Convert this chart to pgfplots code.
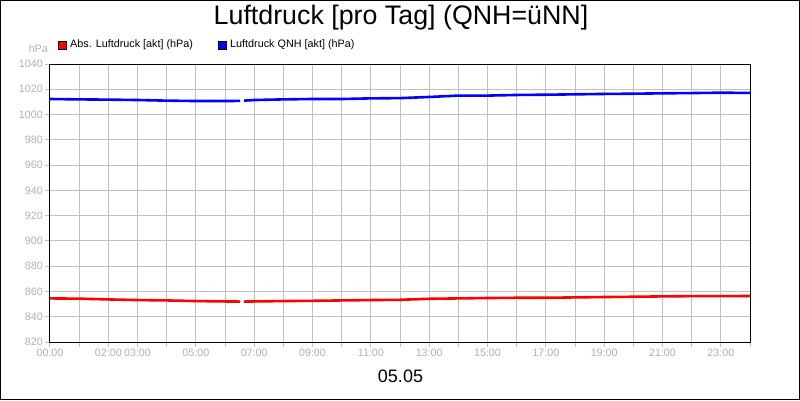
\documentclass[border=0pt]{standalone}
\usepackage{pgfplots}
\pgfplotsset{compat=1.18}
\usepackage{fontspec}
\setmainfont{Liberation Sans}
\definecolor{gridgray}{RGB}{192,192,192}
\definecolor{labelgray}{RGB}{176,176,176}

\begin{document}
\begin{tikzpicture}
\begin{axis}[
    at={(0,0)}, anchor=south west,
    scale only axis, width=700pt, height=278pt,
    xmin=0, xmax=24, ymin=820, ymax=1040,
    xtick={0,...,24},
    xticklabels={00:00,,02:00,03:00,,05:00,,07:00,,09:00,,11:00,,13:00,,15:00,,17:00,,19:00,,21:00,,23:00,},
    ytick={820,840,...,1040},
    grid=major,
    major grid style={gridgray, line width=1pt},
    tick align=outside, tick pos=left,
    major tick length=5pt,
    every tick/.style={gridgray, line width=1pt},
    axis line style={black, line width=1pt},
    ticklabel style={font=\fontsize{10.7}{12}\selectfont, text=labelgray},
    /pgf/number format/assume math mode=true,
    yticklabel style={/pgf/number format/1000 sep={}, inner sep=2pt},
    xticklabel style={inner sep=2pt},
    unbounded coords=jump,
]
% Luftdruck QNH
\addplot[blue, line width=2.6pt] coordinates {
    (0,1012.3) (1,1012.0) (2,1011.8) (3,1011.5) (4,1011.0) (5,1010.7)
    (6,1010.7) (6.52,1010.8) (6.58,nan) (6.65,1011.0) (7,1011.5) (8,1012.0)
    (9,1012.3) (10,1012.3) (11,1012.8) (12,1013.0) (13,1013.9) (14,1015.0)
    (15,1015.0) (16,1015.5) (17,1015.7) (18,1016.0) (19,1016.3) (20,1016.5)
    (21,1016.8) (22,1017.0) (23,1017.3) (24,1017.1)
};
% Abs. Luftdruck
\addplot[red, line width=2.6pt] coordinates {
    (0,854.5) (1,854.3) (2,853.7) (3,853.2) (4,852.9) (5,852.4)
    (6,852.1) (6.52,852.0) (6.58,nan) (6.65,852.0) (7,852.1) (8,852.4)
    (9,852.6) (10,852.9) (11,853.2) (12,853.4) (13,854.2) (14,854.5)
    (15,854.8) (16,855.0) (17,855.0) (18,855.3) (19,855.6) (20,855.8)
    (21,856.1) (22,856.3) (23,856.3) (24,856.4)
};
\end{axis}

% outer frame
\draw[black, line width=1pt] (-49.5pt,-57.5pt) rectangle (749.5pt,341.5pt);

% title and date
\node[anchor=base, font=\fontsize{26.8}{30}\selectfont] at (351pt,317pt)
    {Luftdruck [pro Tag] (QNH=üNN]};
\node[anchor=base, font=\fontsize{18}{20}\selectfont] at (350.5pt,-40pt) {05.05};

% unit
\node[anchor=base east, inner sep=0pt, text=labelgray,
      font=\fontsize{10.7}{12}\selectfont] at (-2pt,290pt) {hPa};

% legend
\draw[black, fill=red, line width=0.5pt] (8pt,293pt) rectangle (16pt,301pt);
\node[anchor=west, inner sep=0pt, font=\fontsize{10.8}{12}\selectfont]
    at (20pt,297pt) {Abs. Luftdruck [akt] (hPa)};
\draw[black, fill=blue, line width=0.5pt] (168pt,293pt) rectangle (176pt,301pt);
\node[anchor=west, inner sep=0pt, font=\fontsize{10.8}{12}\selectfont]
    at (180pt,297pt) {Luftdruck QNH [akt] (hPa)};
\end{tikzpicture}
\end{document}
